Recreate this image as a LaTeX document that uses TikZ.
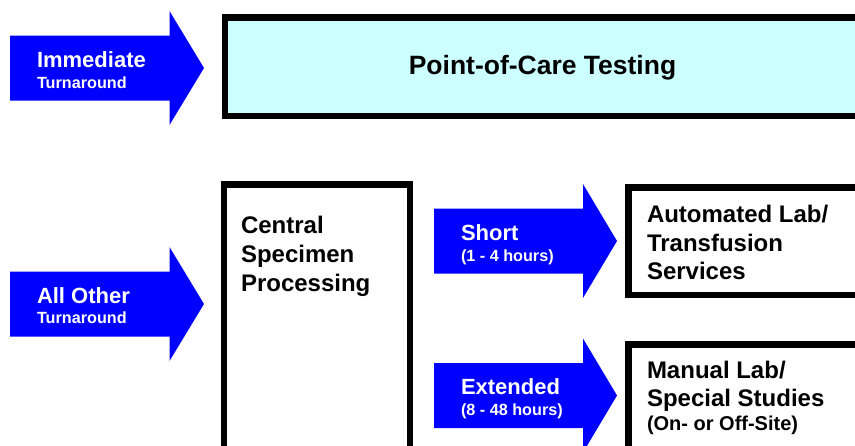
\documentclass[tikz,border=0pt]{standalone}
\usepackage{fontspec}
\setmainfont{Liberation Sans}

\newlength{\du}
\setlength{\du}{1pt}

\definecolor{arrowblue}{rgb}{0.000000, 0.000000, 1.000000}
\definecolor{poccyan}{rgb}{0.800000, 1.000000, 1.000000}

\tikzset{
  blockarrow/.style={fill=arrowblue, draw=none},
  areabox/.style={rectangle, draw=black, line width=6.5\du, anchor=north west,
    inner sep=0pt, outer sep=0pt},
  arrowtext/.style={anchor=base west, inner sep=0pt, outer sep=0pt, text=white,
    font=\bfseries\fontsize{22}{22}\selectfont},
  arrowsub/.style={arrowtext, font=\bfseries\fontsize{16.2}{16.2}\selectfont},
  boxtext/.style={anchor=base west, inner sep=0pt, outer sep=0pt, text=black,
    font=\bfseries\fontsize{24}{24}\selectfont},
  boxsub/.style={boxtext, font=\bfseries\fontsize{20}{20}\selectfont},
}

\begin{document}
\begin{tikzpicture}
\pgftransformxscale{1.000000}
\pgftransformyscale{-1.000000}
\useasboundingbox (0\du,0\du) rectangle (855\du,445\du);
\clip (0\du,0\du) rectangle (855\du,445\du);

% boxes
\node[areabox, fill=poccyan, minimum width=636\du, minimum height=98.5\du] (poc) at (225\du,17.5\du) {};
\node[areabox, fill=white, minimum width=186\du, minimum height=300\du] (csp) at (224\du,184.5\du) {};
\node[areabox, fill=white, minimum width=300\du, minimum height=107.5\du] (auto) at (628.5\du,187.5\du) {};
\node[areabox, fill=white, minimum width=300\du, minimum height=150\du] (manual) at (628.5\du,344.5\du) {};

% block arrows
\fill[blockarrow] (10\du,35.5\du)--(169.5\du,35.5\du)--(169.5\du,11\du)--(204\du,68\du)--(169.5\du,125\du)--(169.5\du,100.5\du)--(10\du,100.5\du)--cycle;
\fill[blockarrow] (10\du,271.5\du)--(169.5\du,271.5\du)--(169.5\du,247\du)--(204\du,304\du)--(169.5\du,361\du)--(169.5\du,336.5\du)--(10\du,336.5\du)--cycle;
\fill[blockarrow] (434\du,208.5\du)--(583\du,208.5\du)--(583\du,184\du)--(617\du,241\du)--(583\du,298\du)--(583\du,273.5\du)--(434\du,273.5\du)--cycle;
\fill[blockarrow] (434\du,363\du)--(583\du,363\du)--(583\du,338.5\du)--(617\du,395.5\du)--(583\du,452.5\du)--(583\du,428\du)--(434\du,428\du)--cycle;

% arrow labels
\node[arrowtext] (immA) at (37\du,67\du) {Immediate};
\node[arrowsub] (immB) at (37\du,88\du) {Turnaround};
\node[arrowtext] (othA) at (37\du,303\du) {All Other};
\node[arrowsub] (othB) at (37\du,323\du) {Turnaround};
\node[arrowtext] (shortA) at (461\du,240\du) {Short};
\node[arrowsub] (shortB) at (461\du,261\du) {(1 - 4 hours)};
\node[arrowtext] (extA) at (461\du,394\du) {Extended};
\node[arrowsub] (extB) at (461\du,415\du) {(8 - 48 hours)};

% box labels
\node[boxtext, anchor=base, font=\bfseries\fontsize{26.5}{26.5}\selectfont] (pocA) at (542.5\du,74\du) {Point-of-Care Testing};
\node[boxtext] (cspA) at (241\du,233\du) {Central};
\node[boxtext] (cspB) at (241\du,262\du) {Specimen};
\node[boxtext] (cspC) at (241\du,291\du) {Processing};
\node[boxtext] (autoA) at (647\du,222\du) {Automated Lab/};
\node[boxtext] (autoB) at (647\du,251\du) {Transfusion};
\node[boxtext] (autoC) at (647\du,279\du) {Services};
\node[boxtext] (manA) at (647\du,378\du) {Manual Lab/};
\node[boxtext] (manB) at (647\du,406\du) {Special Studies};
\node[boxsub] (manC) at (647\du,430\du) {(On- or Off-Site)};
\end{tikzpicture}
\end{document}
